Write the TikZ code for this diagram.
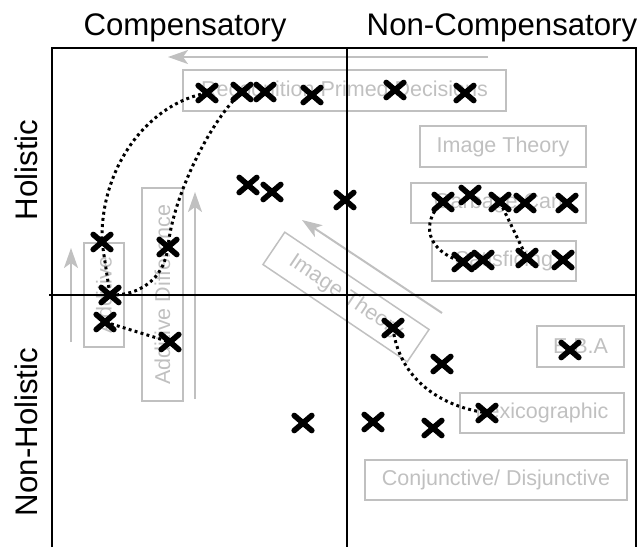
\documentclass[tikz,border=0pt]{standalone}
\usepackage{fontspec}
\setmainfont{Liberation Sans}
\usetikzlibrary{shapes.misc,arrows.meta}
\definecolor{lg}{RGB}{192,192,192}
\pgfdeclarelayer{back}
\pgfdeclarelayer{mid}
\pgfsetlayers{back,mid,main}
\begin{document}
\begin{tikzpicture}[x=1pt,y=-1pt,
  box/.style={draw=lg, line width=1.5pt, text=lg, font=\fontsize{21.5}{24}\selectfont, inner sep=0pt},
  head/.style={text=black, font=\fontsize{31.2}{34}\selectfont, inner sep=0pt},
  garrow/.style={draw=lg, line width=2pt, -{Stealth[length=20pt,width=14pt,inset=5pt]}},
  mk/.style={cross out, draw=black, line width=5.6pt, minimum width=12pt, minimum height=9.5pt, inner sep=0pt, line cap=round},
  dots/.style={draw=black, line width=3pt, dash pattern=on 2.9pt off 3.3pt}]
\useasboundingbox (0,0) rectangle (643,547);
% frame and axes
\draw[line width=1.6pt] (52,547) -- (52,48) -- (636,48) -- (636,547);
\draw[line width=1.6pt] (49,295) -- (636,295);
\draw[line width=1.6pt] (347,48) -- (347,547);
% headings
\node[head, anchor=base] (hc) at (185,35) {Compensatory};
\node[head, anchor=base] (hn) at (502,35) {Non-Compensatory};
\node[head, anchor=base, rotate=90] (hh) at (37,170) {Holistic};
\node[head, anchor=base, rotate=90] (hnh) at (37,432) {Non-Holistic};
% gray boxes
\begin{pgfonlayer}{back}
\node[box, minimum width=323pt, minimum height=41pt] (rpd) at (344.5,90.5) {Recognition Primed Decisions};
\node[box, minimum width=166pt, minimum height=41pt] (imt) at (503,146.5) {Image Theory};
\node[box, minimum width=175pt, minimum height=40pt] (gc) at (498.5,203) {Garbage Can};
\node[box, minimum width=144pt, minimum height=40pt] (sat) at (504,261) {Satisficing};
\node[box, minimum width=104pt, minimum height=40pt, rotate=90] (add) at (104,295) {Additive};
\node[box, minimum width=213pt, minimum height=41pt, rotate=90] (addd) at (162.5,294.5) {Additive Difference};
\node[box, minimum width=174pt, minimum height=39pt, rotate=-34] (imt2) at (346,297) {Image Theory};
\node[box, minimum width=87pt, minimum height=41pt] (eba) at (580.5,346.5) {E.B.A};
\node[box, minimum width=164pt, minimum height=40pt] (lex) at (542,413) {Lexicographic};
\node[box, minimum width=262pt, minimum height=40pt] (cd) at (496,480) {Conjunctive/ Disjunctive};
% gray arrows
\coordinate (ta1) at (488,57); \coordinate (ta2) at (168,57);
\draw[garrow] (ta1) -- (ta2);
\coordinate (la1) at (71,342); \coordinate (la2) at (71,248);
\draw[garrow] (la1) -- (la2);
\coordinate (ra1) at (195,399); \coordinate (ra2) at (195,192);
\draw[garrow] (ra1) -- (ra2);
\coordinate (da1) at (442,313); \coordinate (da2) at (302,220);
\draw[garrow] (da1) -- (da2);
\end{pgfonlayer}
% markers
\node[mk] (r1) at (207,93) {};
\node[mk] (r2) at (242,92) {};
\node[mk] (r3) at (265,92) {};
\node[mk] (r4) at (312,95) {};
\node[mk] (r5) at (395,90) {};
\node[mk] (r6) at (465,93) {};
\node[mk] (m1) at (248,185) {};
\node[mk] (m2) at (272,192) {};
\node[mk] (m3) at (345,200) {};
\node[mk] (g1) at (443,202) {};
\node[mk] (g2) at (470,195) {};
\node[mk] (g3) at (500,202) {};
\node[mk] (g4) at (525,203) {};
\node[mk] (g5) at (567,203) {};
\node[mk] (s1) at (463,262) {};
\node[mk] (s2) at (483,260) {};
\node[mk] (s3) at (527,258) {};
\node[mk] (s4) at (563,260) {};
\node[mk] (a1) at (102,242) {};
\node[mk] (a2) at (168,247) {};
\node[mk] (a3) at (110,295) {};
\node[mk] (a4) at (105,322) {};
\node[mk] (a5) at (170,342) {};
\node[mk] (i1) at (393,328) {};
\node[mk] (i2) at (442,364) {};
\node[mk] (e1) at (570,350) {};
\node[mk] (l1) at (487,413) {};
\node[mk] (b1) at (303,423) {};
\node[mk] (b2) at (373,422) {};
\node[mk] (b3) at (433,428) {};
% dotted paths
\begin{pgfonlayer}{mid}
\draw[dots] (r1.center) .. controls (150,103) and (100,165) .. (a1.center);
\draw[dots] (a1.center) -- (a3.center);
\draw[dots] (r2.center) .. controls (212,118) and (173,195) .. (a2.center);
\draw[dots] (a2.center) .. controls (164,280) and (138,296) .. (a3.center);
\draw[dots] (a4.center) -- (a5.center);
\draw[dots] (g1.center) .. controls (426,215) and (418,248) .. (s1.center);
\draw[dots] (g3.center) -- (s3.center);
\draw[dots] (i1.center) .. controls (398,372) and (432,405) .. (l1.center);
\end{pgfonlayer}
\end{tikzpicture}
\end{document}
